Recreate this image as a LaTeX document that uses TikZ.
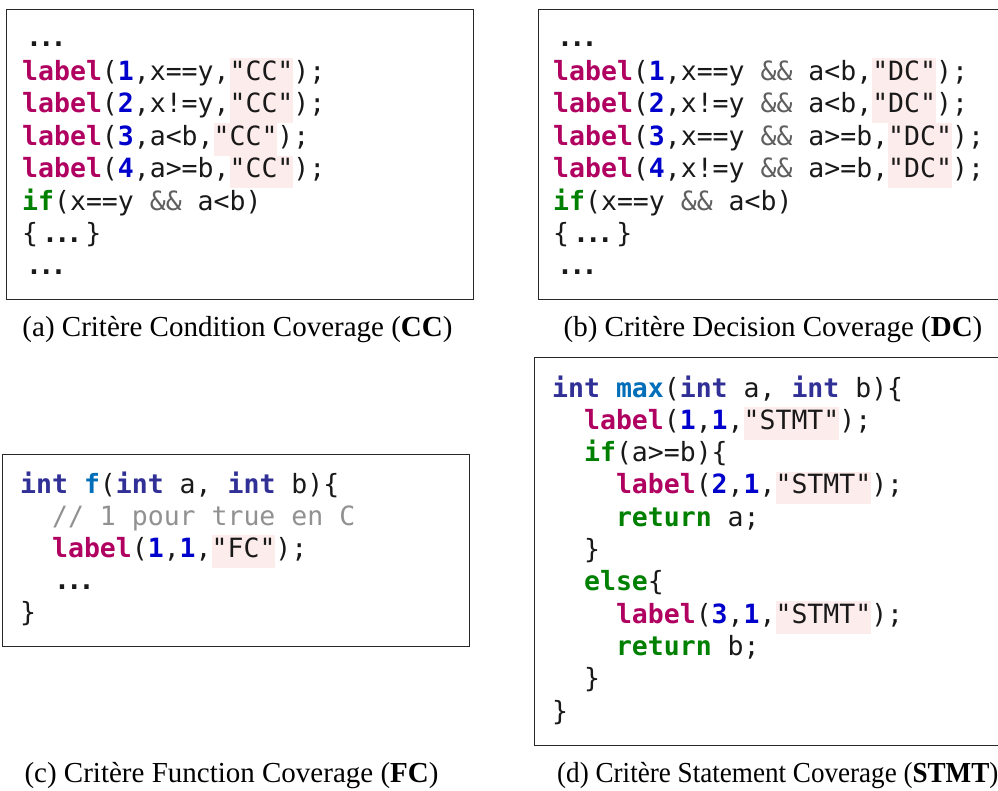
\documentclass[tikz,border=0pt]{standalone}
\usepackage{fontspec}
\setmainfont{Liberation Serif}
\newfontfamily\codefont{DejaVu Sans Mono}
\definecolor{labcol}{RGB}{176,0,96}
\definecolor{numcol}{RGB}{0,0,205}
\definecolor{kwgreen}{RGB}{0,128,0}
\definecolor{intcol}{RGB}{48,48,150}
\definecolor{fncol}{RGB}{0,110,185}
\definecolor{opgray}{RGB}{95,95,95}
\definecolor{comgray}{RGB}{145,145,145}
\definecolor{strbg}{RGB}{253,236,236}
\definecolor{txt}{RGB}{25,25,25}
\definecolor{boxline}{RGB}{40,40,40}
\newcommand\lab{\textcolor{labcol}{\bfseries label}}
\newcommand\num[1]{\textcolor{numcol}{\bfseries #1}}
\newcommand\kwg[1]{\textcolor{kwgreen}{\bfseries #1}}
\newcommand\kint{\textcolor{intcol}{\bfseries int}}
\newcommand\fnm[1]{\textcolor{fncol}{\bfseries #1}}
\newcommand\andand{\textcolor{opgray}{\&\&}}
\newcommand\comm[1]{\textcolor{comgray}{#1}}
\newcommand\strlit[1]{{\setlength\fboxsep{0pt}\colorbox{strbg}{\rule[-10.5pt]{0pt}{32.5pt}"#1"}}}
\newcommand\dts{{\bfseries .\hspace{-3.8pt}.\hspace{-3.8pt}.}}
\tikzset{
  codebox/.style={draw=boxline, line width=1.2pt, rectangle, anchor=north west, inner sep=0pt},
  code/.style={anchor=base west, inner sep=0pt, text=txt, font=\codefont\fontsize{26.5}{32.5}\selectfont},
  capt/.style={anchor=base, inner sep=0pt, text=black, font=\fontsize{29}{34}\selectfont},
}
\begin{document}
\begin{tikzpicture}[x=1pt,y=-1pt]
\useasboundingbox[fill=white] (0,0) rectangle (998,790);
% boxes
\node[codebox, minimum width=467pt, minimum height=290pt] (boxa) at (6,9) {};
\node[codebox, minimum width=470pt, minimum height=290pt] (boxb) at (538,9) {};
\node[codebox, minimum width=467pt, minimum height=192pt] (boxc) at (2,454) {};
\node[codebox, minimum width=480pt, minimum height=388pt] (boxd) at (534,357) {};
% (a)
\node[code] (a0) at (26,46) {\dts};
\node[code] (a1) at (22,80) {\lab(\num{1},x==y,\strlit{CC});};
\node[code] (a2) at (22,112.5) {\lab(\num{2},x!=y,\strlit{CC});};
\node[code] (a3) at (22,145) {\lab(\num{3},a<b,\strlit{CC});};
\node[code] (a4) at (22,177.5) {\lab(\num{4},a>=b,\strlit{CC});};
\node[code] (a5) at (22,210) {\kwg{if}(x==y \andand{} a<b)};
\node[code] (a6) at (22,242) {\{\hspace{4pt}\dts\hspace{3pt}\}};
\node[code] (a7) at (26,274) {\dts};
% (b)
\node[code] (b0) at (557,46) {\dts};
\node[code] (b1) at (553,80) {\lab(\num{1},x==y \andand{} a<b,\strlit{DC});};
\node[code] (b2) at (553,112.5) {\lab(\num{2},x!=y \andand{} a<b,\strlit{DC});};
\node[code] (b3) at (553,145) {\lab(\num{3},x==y \andand{} a>=b,\strlit{DC});};
\node[code] (b4) at (553,177.5) {\lab(\num{4},x!=y \andand{} a>=b,\strlit{DC});};
\node[code] (b5) at (553,210) {\kwg{if}(x==y \andand{} a<b)};
\node[code] (b6) at (553,242) {\{\hspace{4pt}\dts\hspace{3pt}\}};
\node[code] (b7) at (557,274) {\dts};
% (c)
\node[code] (c1) at (20,493) {\kint{} \fnm{f}(\kint{} a, \kint{} b)\{};
\node[code] (c2) at (51.9,525) {\comm{// 1 pour true en C}};
\node[code] (c3) at (51.9,557) {\lab(\num{1},\num{1},\strlit{FC});};
\node[code] (c4) at (54,589) {\dts};
\node[code] (c5) at (20,621) {\}};
% (d)
\node[code] (d1) at (552,397) {\kint{} \fnm{max}(\kint{} a, \kint{} b)\{};
\node[code] (d2) at (583.9,429.3) {\lab(\num{1},\num{1},\strlit{STMT});};
\node[code] (d3) at (583.9,461.6) {\kwg{if}(a>=b)\{};
\node[code] (d4) at (615.8,493.9) {\lab(\num{2},\num{1},\strlit{STMT});};
\node[code] (d5) at (615.8,526.2) {\kwg{return} a;};
\node[code] (d6) at (583.9,558.5) {\}};
\node[code] (d7) at (583.9,590.8) {\kwg{else}\{};
\node[code] (d8) at (615.8,623.1) {\lab(\num{3},\num{1},\strlit{STMT});};
\node[code] (d9) at (615.8,655.4) {\kwg{return} b;};
\node[code] (d10) at (583.9,687.7) {\}};
\node[code] (d11) at (552,720) {\}};
% captions
\node[capt] (capa) at (237.5,336) {(a) Critère Condition Coverage (\textbf{CC})};
\node[capt] (capb) at (773,336) {(b) Critère Decision Coverage (\textbf{DC})};
\node[capt] (capc) at (231.5,782) {(c) Critère Function Coverage (\textbf{FC})};
\node[capt, anchor=base west] (capd) at (557,782) {\scalebox{0.935}[1]{(d) Critère Statement Coverage (\textbf{STMT})}};
\end{tikzpicture}
\end{document}
